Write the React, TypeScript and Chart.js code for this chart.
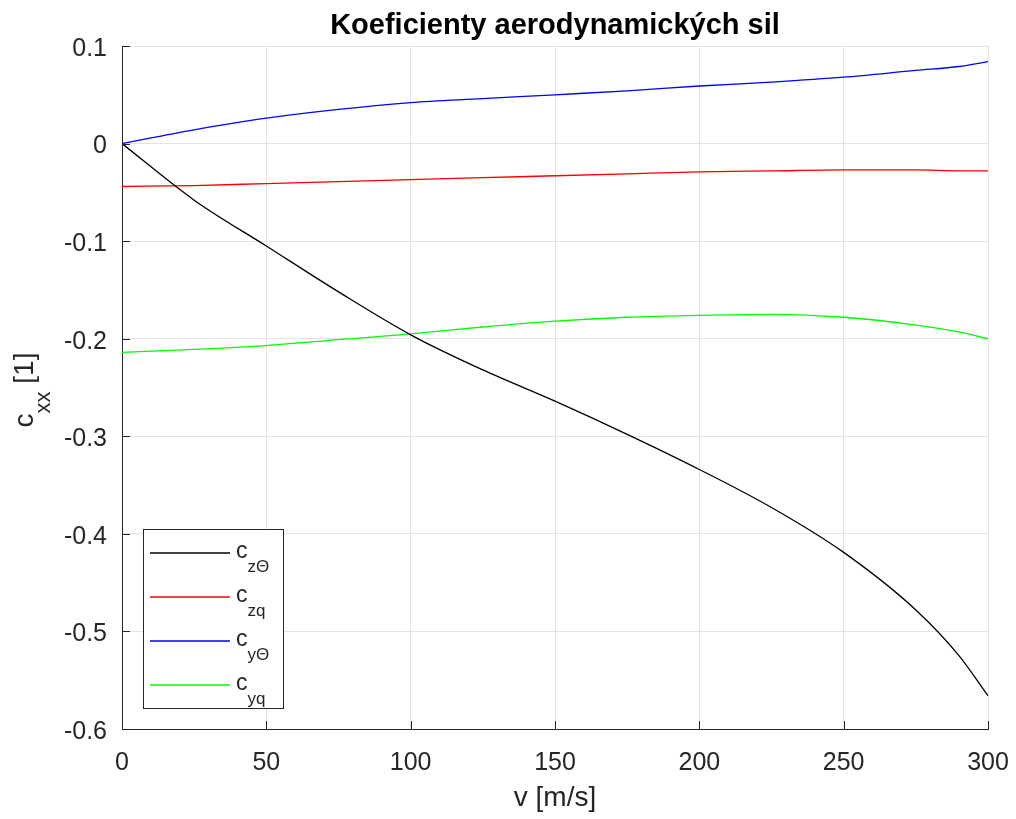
import React, { useEffect, useRef } from "react";
import { Chart, registerables } from "chart.js";

Chart.register(...registerables);

// Flight speed samples [m/s]
const speeds = [0, 25, 50, 75, 100, 125, 150, 175, 200, 225, 250, 275, 290, 300];

// Aerodynamic force coefficients [1]
const czTheta = [0, -0.058, -0.105, -0.152, -0.196, -0.232, -0.264, -0.298, -0.334, -0.373, -0.419, -0.478, -0.525, -0.566];
const czq = [-0.044, -0.043, -0.041, -0.039, -0.037, -0.035, -0.033, -0.031, -0.029, -0.028, -0.027, -0.027, -0.028, -0.028];
const cyTheta = [0, 0.014, 0.026, 0.035, 0.042, 0.046, 0.050, 0.054, 0.059, 0.063, 0.068, 0.075, 0.079, 0.084];
const cyq = [-0.214, -0.211, -0.207, -0.201, -0.195, -0.188, -0.182, -0.178, -0.176, -0.175, -0.178, -0.186, -0.193, -0.200];

const xTicks = [0, 50, 100, 150, 200, 250, 300];
const yTicks = [-0.6, -0.5, -0.4, -0.3, -0.2, -0.1, 0, 0.1];

const seriesNames = ["z\u0398", "zq", "y\u0398", "yq"];
const seriesColors = ["#000000", "#ff0000", "#0000ff", "#00ff00"];
const seriesValues = [czTheta, czq, cyTheta, cyq];

const chartTitle = "Koeficienty aerodynamických sil";
const xTitle = "v [m/s]";

const FONT = "'Liberation Sans', Arial, Helvetica, sans-serif";
const AXIS = "#262626";

const decorPlugin = {
  id: "decor",
  afterDraw(chart: any) {
    const { ctx, chartArea } = chart;
    const { left, right, top, bottom } = chartArea;
    const xs = chart.scales.x;
    const ys = chart.scales.y;
    ctx.save();

    // inward tick marks on left and bottom axes
    ctx.strokeStyle = AXIS;
    ctx.lineWidth = 1;
    ctx.beginPath();
    xTicks.forEach((v) => {
      const px = Math.round(xs.getPixelForValue(v)) + 0.5;
      ctx.moveTo(px, bottom);
      ctx.lineTo(px, bottom - 8);
    });
    yTicks.forEach((v) => {
      const py = Math.round(ys.getPixelForValue(v)) + 0.5;
      ctx.moveTo(left, py);
      ctx.lineTo(left + 8, py);
    });
    ctx.stroke();

    // title
    ctx.fillStyle = "#000000";
    ctx.font = `bold 29px ${FONT}`;
    ctx.textAlign = "center";
    ctx.textBaseline = "alphabetic";
    ctx.fillText(chartTitle, (left + right) / 2, 34);

    // x axis title
    ctx.fillStyle = AXIS;
    ctx.font = `28px ${FONT}`;
    ctx.fillText(xTitle, (left + right) / 2, 806);

    // y axis title with subscript
    ctx.save();
    const mainFont = `28px ${FONT}`;
    const subFont = `22px ${FONT}`;
    ctx.font = mainFont;
    const wc = ctx.measureText("c").width;
    const wRest = ctx.measureText(" [1]").width;
    ctx.font = subFont;
    const wSub = ctx.measureText("xx").width;
    const total = wc + wSub + wRest;
    ctx.translate(33, 390);
    ctx.rotate(-Math.PI / 2);
    ctx.textAlign = "left";
    ctx.textBaseline = "alphabetic";
    let cx = -total / 2;
    ctx.font = mainFont;
    ctx.fillText("c", cx, 0);
    cx += wc;
    ctx.font = subFont;
    ctx.fillText("xx", cx, 17);
    cx += wSub;
    ctx.font = mainFont;
    ctx.fillText(" [1]", cx, 0);
    ctx.restore();

    // legend box
    const bx = 143.5, by = 529.5, bw = 140, bh = 179;
    ctx.fillStyle = "#ffffff";
    ctx.fillRect(bx, by, bw, bh);
    ctx.strokeStyle = AXIS;
    ctx.lineWidth = 1;
    ctx.strokeRect(bx, by, bw, bh);
    const rowY = [553, 597, 641, 685];
    seriesNames.forEach((name, i) => {
      const y = rowY[i];
      ctx.strokeStyle = seriesColors[i];
      ctx.lineWidth = 1.3;
      ctx.beginPath();
      ctx.moveTo(150, y);
      ctx.lineTo(230, y);
      ctx.stroke();
      ctx.fillStyle = AXIS;
      ctx.textAlign = "left";
      ctx.textBaseline = "alphabetic";
      ctx.font = `23px ${FONT}`;
      ctx.fillText("c", 236, y + 5);
      const w = ctx.measureText("c").width;
      ctx.font = `17px ${FONT}`;
      ctx.fillText(name, 236 + w, y + 19);
    });

    ctx.restore();
  },
};

export default function App() {
  const canvasRef = useRef<HTMLCanvasElement>(null);

  useEffect(() => {
    const canvas = canvasRef.current;
    if (!canvas) return;
    const chart = new Chart(canvas, {
      type: "line",
      data: {
        labels: speeds,
        datasets: seriesValues.map((vals, i) => ({
          label: "c" + seriesNames[i],
          data: speeds.map((s, j) => ({ x: s, y: vals[j] })),
          borderColor: seriesColors[i],
          backgroundColor: seriesColors[i],
          borderWidth: 1.3,
          pointRadius: 0,
          cubicInterpolationMode: "monotone" as const,
          fill: false,
        })),
      },
      options: {
        animation: false,
        responsive: false,
        maintainAspectRatio: false,
        layout: { padding: { left: 0, right: 28, top: 46, bottom: 0 } },
        plugins: {
          legend: { display: false },
          title: { display: false },
          tooltip: { enabled: false },
        },
        scales: {
          x: {
            type: "linear",
            min: 0,
            max: 300,
            afterBuildTicks: (scale: any) => {
              scale.ticks = xTicks.map((v) => ({ value: v }));
            },
            afterFit: (scale: any) => {
              scale.height = 90;
              scale.paddingRight = 0;
              scale.paddingLeft = 0;
            },
            grid: { color: "#e3e3e3", lineWidth: 1, drawTicks: false },
            border: { color: AXIS, width: 1 },
            ticks: {
              color: AXIS,
              font: { family: FONT, size: 25 },
              padding: 19,
              maxRotation: 0,
            },
          },
          y: {
            type: "linear",
            min: -0.6,
            max: 0.1,
            afterBuildTicks: (scale: any) => {
              scale.ticks = yTicks.map((v) => ({ value: v }));
            },
            afterFit: (scale: any) => {
              scale.width = 122;
              scale.paddingTop = 0;
              scale.paddingBottom = 0;
            },
            grid: { color: "#e3e3e3", lineWidth: 1, drawTicks: false },
            border: { color: AXIS, width: 1 },
            ticks: {
              color: AXIS,
              font: { family: FONT, size: 25 },
              padding: 15,
              labelOffset: 3,
              callback: (v: any) => {
                const n = Math.round(Number(v) * 10) / 10;
                return n === 0 ? "0" : String(n);
              },
            },
          },
        },
      },
      plugins: [decorPlugin],
    });
    return () => chart.destroy();
  }, []);

  return (
    <div style={{ position: "fixed", left: 0, top: 0, width: 1016, height: 819, background: "#ffffff" }}>
      <canvas ref={canvasRef} width={1016} height={819} style={{ width: 1016, height: 819 }} />
    </div>
  );
}
